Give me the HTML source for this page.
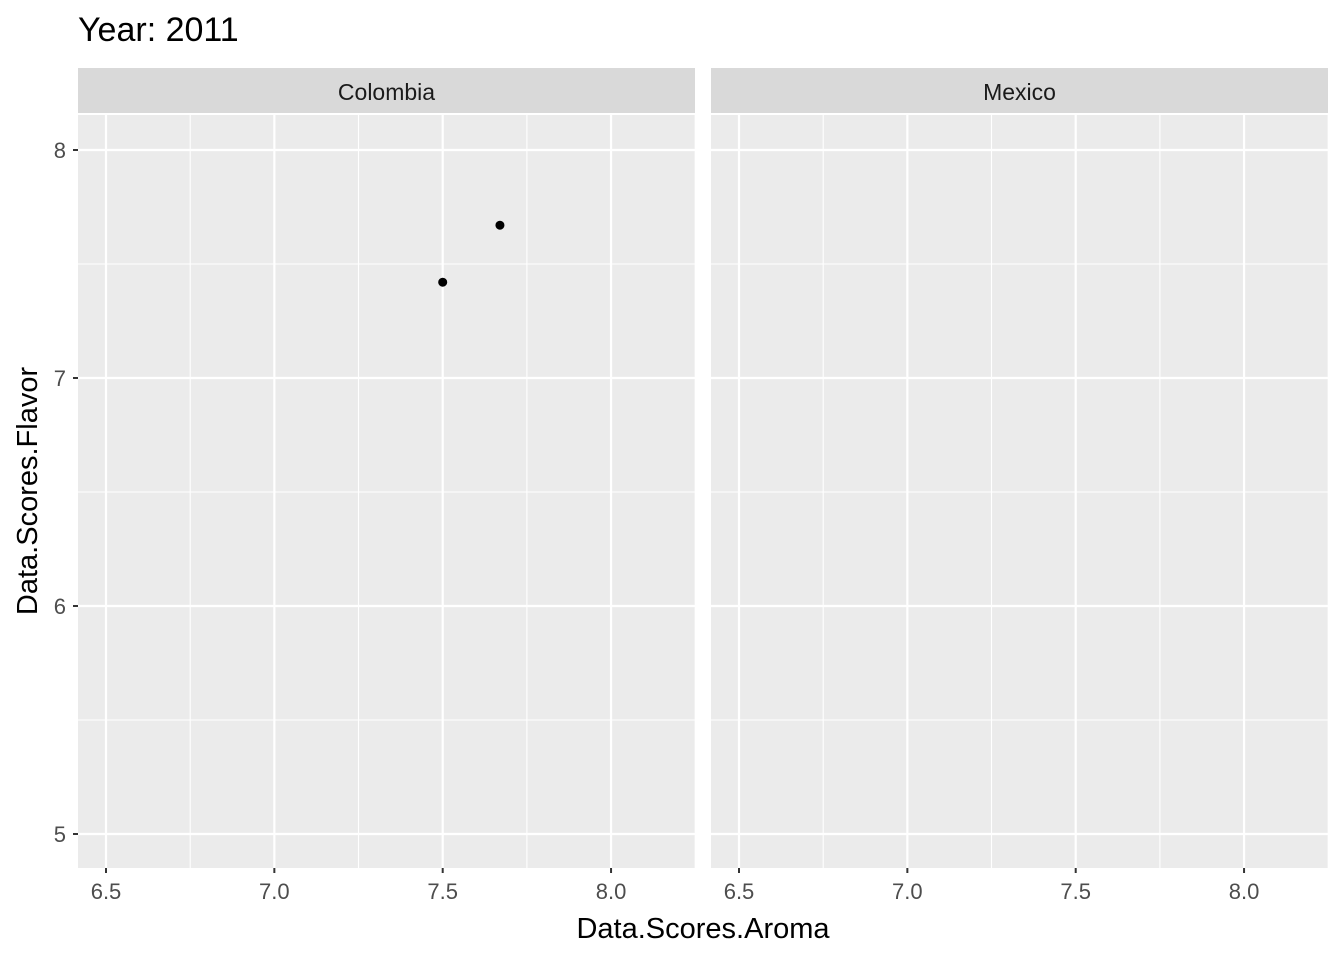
<!DOCTYPE html>
<html><head><meta charset="utf-8"><style>
body{margin:0;background:#fff;}
svg{display:block;font-family:"Liberation Sans",Arial,sans-serif;}
</style></head><body>
<svg id="c" width="1344" height="960"></svg>
<script>
const facets=["Colombia","Mexico"];
const aroma=[7.5,7.67];
const flavor=[7.42,7.67];
const pointFacet=["Colombia","Colombia"];
const xTicks=[6.5,7.0,7.5,8.0];
const xTickLabels=["6.5","7.0","7.5","8.0"];
const yTicks=[5,6,7,8];
const yTickLabels=["5","6","7","8"];

const NS="http://www.w3.org/2000/svg";
const svg=document.getElementById('c');
function mk(t,a,p){const e=document.createElementNS(NS,t);for(const k in a)e.setAttribute(k,a[k]);(p||svg).appendChild(e);return e;}
const panelX=[78,711],panelW=617,pTop=115,pBot=868;
function sx(v,i){return panelX[i]+28+(v-6.5)*336.7;}
function sy(v){return 150+(8-v)*228;}

let t=mk('text',{x:78,y:41,'font-size':34,fill:'#000'});t.textContent='Year: 2011';



facets.forEach((f,i)=>{
  const g=mk('g',{});
  
  
  const s=mk('rect',{x:panelX[i],y:68,width:panelW,height:45,fill:'#d9d9d9'},g);
  
  
  const st=mk('text',{x:panelX[i]+panelW/2,y:100,'font-size':23,fill:'#1a1a1a','text-anchor':'middle'},g);st.textContent=f;
  
  
  const bg=mk('rect',{x:panelX[i],y:pTop,width:panelW,height:pBot-pTop,fill:'#ebebeb'},g);
  
  
  for(let k=0;k<xTicks.length-1;k++){const m=(xTicks[k]+xTicks[k+1])/2;mk('line',{x1:sx(m,i),x2:sx(m,i),y1:pTop,y2:pBot,stroke:'#fff','stroke-width':1.1},g);}
  mk('line',{x1:sx(8.25,i),x2:sx(8.25,i),y1:pTop,y2:pBot,stroke:'#fff','stroke-width':1.1},g);
  for(let k=0;k<yTicks.length-1;k++){const m=(yTicks[k]+yTicks[k+1])/2;mk('line',{x1:panelX[i],x2:panelX[i]+panelW,y1:sy(m),y2:sy(m),stroke:'#fff','stroke-width':1.1},g);}
  xTicks.forEach((v,k)=>{
    mk('line',{x1:sx(v,i),x2:sx(v,i),y1:pTop,y2:pBot,stroke:'#fff','stroke-width':2.2},g);
    mk('line',{x1:sx(v,i),x2:sx(v,i),y1:pBot,y2:pBot+5,stroke:'#333','stroke-width':2},g);
    const tl=mk('text',{x:sx(v,i),y:899,'font-size':22,fill:'#4d4d4d','text-anchor':'middle'},g);tl.textContent=xTickLabels[k];
    
    
  });
  yTicks.forEach(v=>{mk('line',{x1:panelX[i],x2:panelX[i]+panelW,y1:sy(v),y2:sy(v),stroke:'#fff','stroke-width':2.2},g);});
  aroma.forEach((a,k)=>{ if(pointFacet[k]!==f)return;
    const c=mk('circle',{cx:sx(a,i),cy:sy(flavor[k]),r:4.5,fill:'#000'},g);
    
    
  });
});
yTicks.forEach((v,k)=>{
  mk('line',{x1:73,x2:78,y1:sy(v),y2:sy(v),stroke:'#333','stroke-width':2});
  const tl=mk('text',{x:66,y:sy(v)+8,'font-size':22,fill:'#4d4d4d','text-anchor':'end'});tl.textContent=yTickLabels[k];
  
  
});
const xt=mk('text',{x:703,y:938,'font-size':29,fill:'#000','text-anchor':'middle'});xt.textContent='Data.Scores.Aroma';


const yt=mk('text',{x:0,y:0,'font-size':29,fill:'#000','text-anchor':'middle',transform:'translate(37,491) rotate(-90)'});yt.textContent='Data.Scores.Flavor';


</script>
</body></html>
